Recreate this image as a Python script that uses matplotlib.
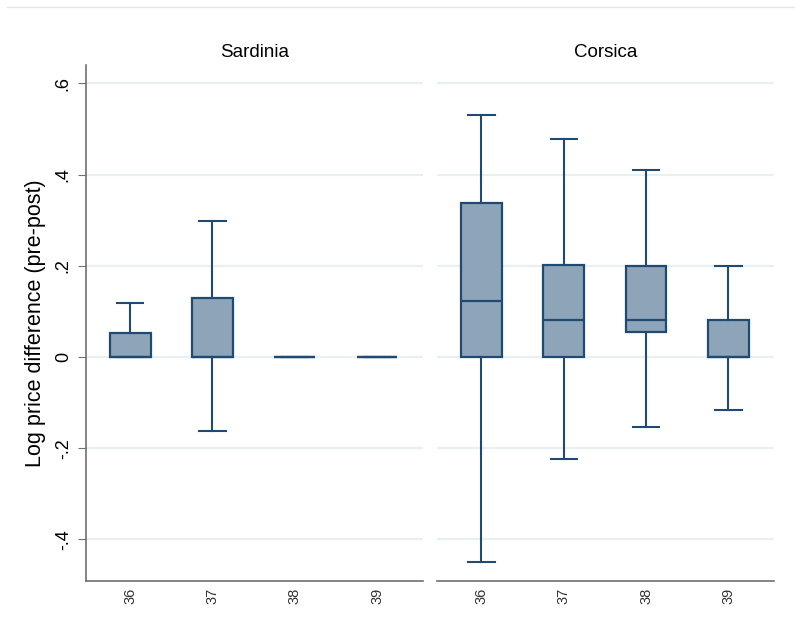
import matplotlib.pyplot as plt
from matplotlib.lines import Line2D

plt.rcParams['font.family'] = ['Liberation Sans', 'DejaVu Sans']

years = ['36', '37', '38', '39']
panels = ['Sardinia', 'Corsica']

# box plot summaries
sard_lo = [0.0, -0.162, 0.0, 0.0]
sard_q1 = [0.0, 0.0, 0.0, 0.0]
sard_med = [0.0, 0.0, 0.0, 0.0]
sard_q3 = [0.052, 0.130, 0.0, 0.0]
sard_hi = [0.118, 0.298, 0.0, 0.0]

cors_lo = [-0.449, -0.224, -0.154, -0.116]
cors_q1 = [0.0, 0.0, 0.054, 0.0]
cors_med = [0.123, 0.081, 0.081, 0.0]
cors_q3 = [0.338, 0.202, 0.200, 0.081]
cors_hi = [0.531, 0.477, 0.409, 0.200]

yticks = [-0.4, -0.2, 0.0, 0.2, 0.4, 0.6]
ytick_labels = ['-.4', '-.2', '0', '.2', '.4', '.6']

edge = '#1f4b73'
fill = '#8ea4b8'
grid = '#e8f0f2'
axis_col = '#707070'


def stats(lo, q1, med, q3, hi):
    out = []
    for i in range(len(lo)):
        out.append(dict(whislo=lo[i], q1=q1[i], med=med[i], q3=q3[i],
                        whishi=hi[i], fliers=[]))
    return out


fig = plt.figure(figsize=(7.95, 6.42), dpi=100)
ax1 = fig.add_axes([0.1078, 0.095, 0.4239, 0.8037])
ax2 = fig.add_axes([0.5497, 0.095, 0.4239, 0.8037])

data = [stats(sard_lo, sard_q1, sard_med, sard_q3, sard_hi),
        stats(cors_lo, cors_q1, cors_med, cors_q3, cors_hi)]

for ax, st, name in zip([ax1, ax2], data, panels):
    for y in yticks:
        ax.axhline(y, color=grid, lw=1.6, zorder=0)
    ax.bxp(st, positions=[1, 2, 3, 4], widths=0.495, patch_artist=True,
           showfliers=False,
           boxprops=dict(facecolor=fill, edgecolor=edge, linewidth=1.6),
           medianprops=dict(color=edge, linewidth=1.6),
           whiskerprops=dict(color=edge, linewidth=1.5),
           capprops=dict(color=edge, linewidth=1.5),
           capwidths=0.32)
    ax.set_xlim(0.46, 4.555)
    ax.set_ylim(-0.491, 0.64)
    ax.set_xticks([1, 2, 3, 4])
    ax.set_xticklabels(years, rotation=90, fontsize=10.5, color='#333333')
    ax.tick_params(axis='x', length=0, pad=5)
    ax.set_title(name, fontsize=13.5, pad=6)
    for s in ['top', 'right']:
        ax.spines[s].set_visible(False)
    ax.spines['bottom'].set_color(axis_col)
    ax.spines['bottom'].set_linewidth(1.2)

ax1.set_yticks(yticks)
ax1.set_yticklabels(ytick_labels, rotation=90, va='center', fontsize=13)
ax1.tick_params(axis='y', length=6, color=axis_col, pad=4)
ax1.spines['left'].set_color(axis_col)
ax1.spines['left'].set_linewidth(1.2)
ax1.set_ylabel('Log price difference (pre-post)', fontsize=15.5, labelpad=6)

ax2.spines['left'].set_visible(False)
ax2.set_yticks([])

fig.add_artist(Line2D([0.009, 1.0], [0.989, 0.989], color='#e6e6e6', lw=1))

fig.savefig('out.png', dpi=100)
